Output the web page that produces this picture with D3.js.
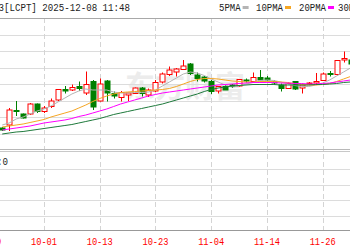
<!DOCTYPE html>
<html>
<head>
<meta charset="utf-8">
<script src="https://cdnjs.cloudflare.com/ajax/libs/d3/7.8.5/d3.min.js"></script>
<style>
  html, body { margin: 0; padding: 0; background: #fff; }
  svg { display: block; }
</style>
</head>
<body>
<svg id="chart"></svg>
<script>
// candles, oldest first: open, high, low, close
const opens  = [4.22,4.25,4.395,4.36,4.36,4.46,4.385,4.435,4.50,4.605,4.60,4.635,4.57,4.685,4.49,4.69,4.565,4.525,4.55,4.565,4.62,4.55,4.59,4.68,4.755,4.78,4.805,4.86,4.75,4.73,4.685,4.59,4.635,4.65,4.64,4.70,4.685,4.725,4.72,4.685,4.65,4.615,4.685,4.62,4.66,4.67,4.695,4.765,4.755,4.90,4.90];
const highs  = [4.23,4.42,4.49,4.365,4.47,4.465,4.44,4.515,4.61,4.64,4.655,4.685,4.785,4.70,4.715,4.70,4.585,4.59,4.57,4.625,4.63,4.615,4.70,4.775,4.835,4.82,4.90,4.87,4.775,4.74,4.70,4.635,4.65,4.66,4.71,4.715,4.775,4.80,4.74,4.70,4.665,4.68,4.685,4.665,4.68,4.77,4.775,4.79,4.90,4.985,4.92];
const lows   = [4.19,4.19,4.34,4.315,4.35,4.37,4.37,4.42,4.49,4.565,4.59,4.59,4.55,4.40,4.485,4.485,4.515,4.485,4.49,4.56,4.535,4.53,4.58,4.665,4.74,4.735,4.80,4.75,4.685,4.675,4.56,4.565,4.60,4.62,4.63,4.675,4.675,4.695,4.68,4.65,4.585,4.61,4.60,4.565,4.65,4.66,4.695,4.735,4.75,4.875,4.85];
const closes = [4.20,4.40,4.385,4.32,4.46,4.385,4.42,4.49,4.605,4.59,4.625,4.615,4.655,4.43,4.66,4.57,4.54,4.575,4.57,4.62,4.565,4.60,4.675,4.76,4.80,4.81,4.84,4.765,4.715,4.69,4.585,4.635,4.60,4.635,4.705,4.69,4.725,4.70,4.70,4.67,4.615,4.665,4.61,4.65,4.67,4.685,4.76,4.755,4.895,4.915,4.86];

// moving averages
const ma5  = [4.25,4.27,4.31,4.33,4.36,4.39,4.41,4.44,4.48,4.52,4.56,4.59,4.61,4.60,4.60,4.60,4.58,4.57,4.57,4.575,4.575,4.58,4.60,4.64,4.68,4.72,4.76,4.78,4.77,4.745,4.71,4.68,4.65,4.63,4.64,4.66,4.675,4.695,4.70,4.695,4.68,4.66,4.645,4.635,4.635,4.65,4.67,4.70,4.74,4.78,4.82];
const ma10 = [4.23,4.24,4.25,4.26,4.275,4.29,4.305,4.33,4.35,4.37,4.39,4.42,4.45,4.485,4.515,4.54,4.56,4.575,4.58,4.585,4.59,4.595,4.60,4.605,4.615,4.635,4.66,4.685,4.705,4.715,4.715,4.71,4.70,4.69,4.685,4.68,4.68,4.685,4.685,4.685,4.68,4.675,4.665,4.655,4.65,4.65,4.655,4.665,4.685,4.71,4.735];
const ma20 = [4.20,4.21,4.22,4.23,4.24,4.255,4.27,4.28,4.29,4.30,4.315,4.335,4.35,4.37,4.39,4.41,4.435,4.46,4.48,4.50,4.52,4.54,4.555,4.57,4.58,4.59,4.60,4.61,4.62,4.63,4.64,4.65,4.655,4.66,4.665,4.67,4.675,4.675,4.675,4.675,4.67,4.67,4.665,4.665,4.66,4.66,4.665,4.67,4.68,4.69,4.70];
const ma30 = [4.16,4.17,4.18,4.185,4.195,4.205,4.215,4.225,4.235,4.245,4.255,4.27,4.285,4.30,4.315,4.335,4.355,4.37,4.385,4.40,4.415,4.43,4.445,4.46,4.48,4.50,4.52,4.54,4.56,4.585,4.605,4.62,4.63,4.64,4.645,4.65,4.655,4.655,4.655,4.655,4.65,4.65,4.65,4.65,4.65,4.655,4.655,4.66,4.665,4.675,4.68];

// x axis labels and the candle index they sit on
const tickLabels = ["09-19","10-01","10-13","10-23","11-04","11-14","11-26"];
const tickIndex  = [-2, 6, 14, 22, 30, 38, 46];

const maNames  = ["5PMA","10PMA","20PMA","30PMA"];
const maColors = ["#b4b4b4","#f5a623","#ff00ff","#1f7a3c"];
const title = "03[LCPT] 2025-12-08 11:48";

const width = 350, height = 250;
const svg = d3.select("#chart").attr("width", width).attr("height", height);

const x = d3.scaleLinear().domain([0, 50]).range([2.2, 350.5]);
const y = d3.scaleLinear().domain([4.00, 5.32]).range([150, 18]);
const yVol = d3.scaleLinear().domain([0, 5]).range([231, 153.5]);

const px = v => Math.round(v) + 0.5;

// watermark
svg.append("text")
    .attr("x", 185).attr("y", 97)
    .attr("text-anchor", "middle")
    .attr("font-family", "Noto Sans CJK SC")
    .attr("font-size", 30)
    .attr("font-weight", "bold")
    .attr("fill", "#ececec")
    .text("东方财富");

// horizontal grid, price panel
const grid = svg.append("g");
d3.range(1, 8).forEach(k => {
    const gy = px(y(4 + 0.165 * k));
    grid.append("line").attr("x1", 0).attr("x2", width).attr("y1", gy).attr("y2", gy)
        .attr("stroke", "#dcdcdc");
});
// volume panel grid
d3.range(1, 5).forEach(k => {
    const gy = px(yVol(k));
    grid.append("line").attr("x1", 0).attr("x2", width).attr("y1", gy).attr("y2", gy)
        .attr("stroke", "#dcdcdc");
});

// vertical dashed lines at the labelled dates
tickIndex.forEach(t => {
    grid.append("line")
        .attr("x1", px(x(t))).attr("x2", px(x(t)))
        .attr("y1", 18).attr("y2", 230)
        .attr("stroke", "#d4d4d4")
        .attr("stroke-dasharray", "5,3");
});

// borders
grid.append("line").attr("x1", 0).attr("x2", width).attr("y1", 18.5).attr("y2", 18.5).attr("stroke", "#a8a8a8");
grid.append("line").attr("x1", 0).attr("x2", width).attr("y1", 149.5).attr("y2", 149.5).attr("stroke", "#b8b8b8");
grid.append("line").attr("x1", 0).attr("x2", width).attr("y1", 151.5).attr("y2", 151.5).attr("stroke", "#c8c8c8");
grid.append("line").attr("x1", 0).attr("x2", width).attr("y1", 230.5).attr("y2", 230.5).attr("stroke", "#999");

// candles
const idx = d3.range(opens.length);
const candles = svg.append("g").selectAll("g").data(idx).enter().append("g");

candles.append("line")
    .attr("x1", i => px(x(i))).attr("x2", i => px(x(i)))
    .attr("y1", i => y(highs[i])).attr("y2", i => y(lows[i]))
    .attr("stroke", i => closes[i] >= opens[i] ? "#ff0000" : "#008000");

candles.append("rect")
    .attr("x", i => px(x(i)) - 2.5)
    .attr("width", 5)
    .attr("y", i => y(Math.max(opens[i], closes[i])))
    .attr("height", i => Math.max(1, Math.abs(y(opens[i]) - y(closes[i]))))
    .attr("fill", i => closes[i] >= opens[i] ? "#ffffff" : "#008000")
    .attr("stroke", i => closes[i] >= opens[i] ? "#ff0000" : "#008000");

// moving average lines
const line = d3.line().x((d, i) => x(i)).y(d => y(d));
[ma5, ma10, ma20, ma30].forEach((s, k) => {
    svg.append("path")
        .attr("d", line(s))
        .attr("fill", "none")
        .attr("stroke", maColors[k])
        .attr("stroke-width", 1);
});

// title
svg.append("text")
    .attr("x", 130).attr("y", 11)
    .attr("text-anchor", "end")
    .attr("font-family", "Liberation Mono")
    .attr("font-size", 11)
    .attr("textLength", 137)
    .attr("lengthAdjust", "spacingAndGlyphs")
    .attr("fill", "#222")
    .text(title);

// legend
const legendX = [219, 256, 299, 338];
maNames.forEach((n, k) => {
    const lx = legendX[k];
    const tw = n.length * 5.4;
    svg.append("text")
        .attr("x", lx).attr("y", 11)
        .attr("font-family", "Liberation Mono")
        .attr("font-size", 10)
        .attr("textLength", tw)
        .attr("lengthAdjust", "spacingAndGlyphs")
        .attr("fill", "#222")
        .text(n);
    svg.append("rect")
        .attr("x", lx + tw + 2).attr("y", 6)
        .attr("width", 6).attr("height", 3)
        .attr("fill", maColors[k]);
});

// volume label
svg.append("text")
    .attr("x", 8).attr("y", 165)
    .attr("text-anchor", "end")
    .attr("font-family", "Liberation Mono")
    .attr("font-size", 11)
    .attr("textLength", 27.5)
    .attr("lengthAdjust", "spacingAndGlyphs")
    .attr("fill", "#222")
    .text("VOL:0");

// x axis labels
svg.append("g").selectAll("text").data(tickLabels).enter().append("text")
    .attr("x", (d, i) => x(tickIndex[i]))
    .attr("y", 245)
    .attr("text-anchor", "middle")
    .attr("font-family", "Liberation Mono")
    .attr("font-size", 10)
    .attr("textLength", 26)
    .attr("lengthAdjust", "spacingAndGlyphs")
    .attr("fill", "#ff0000")
    .text(d => d);
</script>
</body>
</html>
